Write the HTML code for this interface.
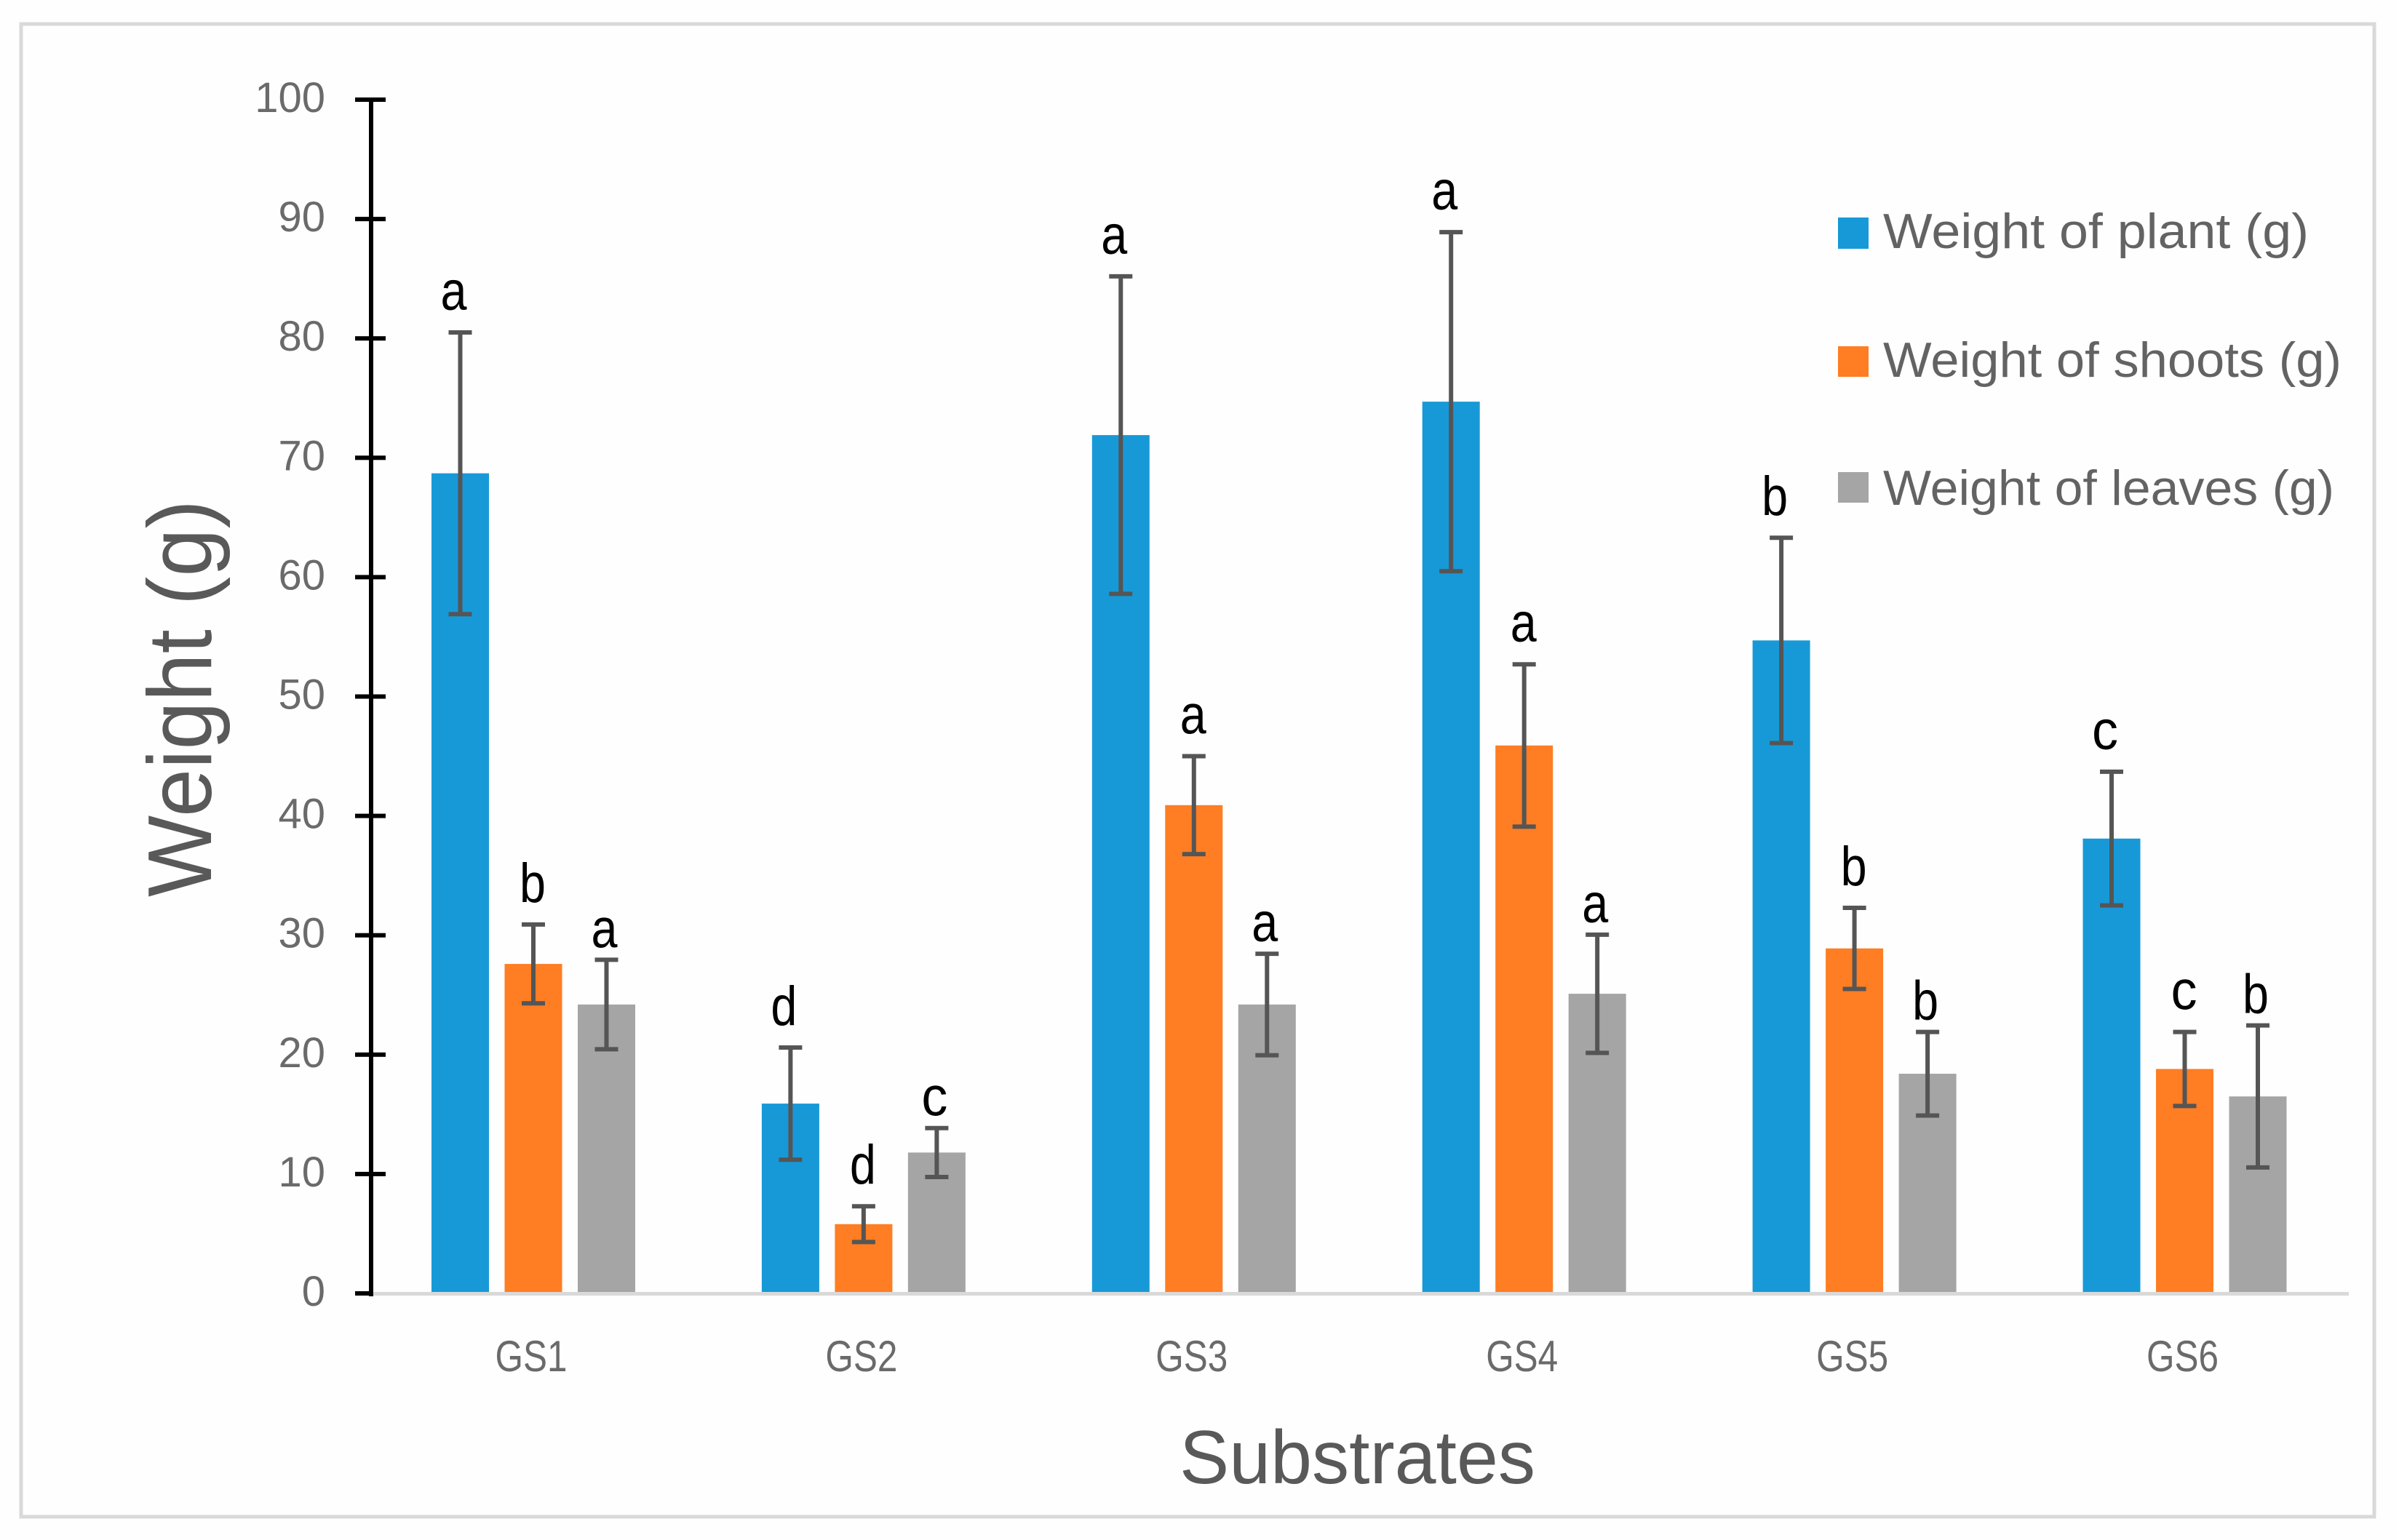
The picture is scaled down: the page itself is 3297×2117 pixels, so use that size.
<!DOCTYPE html>
<html>
<head>
<meta charset="utf-8">
<title>Weight by substrate</title>
<style>
html,body{margin:0;padding:0;background:#fff;}
svg{display:block;font-family:"Liberation Sans",sans-serif;}
</style>
</head>
<body>
<svg id="chart" xmlns="http://www.w3.org/2000/svg" width="3297" height="2117" viewBox="0 0 3297 2117">
  <rect x="0" y="0" width="3297" height="2117" fill="#fefefe"/>
  <rect x="29" y="33" width="3234" height="2052" fill="none" stroke="#d9d9d9" stroke-width="5"/>
  <rect x="511" y="1776" width="2717" height="5" fill="#d9d9d9"/>
  <g id="plot"></g>
  <text transform="translate(290 1233) rotate(-90)" font-size="124" fill="#595959" textLength="546" lengthAdjust="spacingAndGlyphs">Weight (g)</text>
  <text x="1621" y="2039" font-size="104" fill="#595959" textLength="489" lengthAdjust="spacingAndGlyphs">Substrates</text>
  <g>
    <g>
      <rect x="2526" y="299" width="42" height="43" fill="#1799d8"/>
      <text x="2588" y="341" font-size="68" fill="#636363" textLength="585" lengthAdjust="spacingAndGlyphs">Weight of plant (g)</text>
    </g>
    <g>
      <rect x="2526" y="476" width="42" height="42" fill="#ff7d23"/>
      <text x="2588" y="518" font-size="68" fill="#636363" textLength="630" lengthAdjust="spacingAndGlyphs">Weight of shoots (g)</text>
    </g>
    <g>
      <rect x="2526" y="649" width="42" height="42" fill="#a5a5a5"/>
      <text x="2588" y="694" font-size="68" fill="#636363" textLength="620" lengthAdjust="spacingAndGlyphs">Weight of leaves (g)</text>
    </g>
  </g>
  <g>
    <rect x="507" y="134" width="6" height="1648" fill="#000"/>
  </g>
</svg>
<script>
const categories = ["GS1", "GS2", "GS3", "GS4", "GS5", "GS6"];
const yTicks = [0, 10, 20, 30, 40, 50, 60, 70, 80, 90, 100];
const plantValues = [68.7, 15.9, 71.9, 74.7, 54.7, 38.1];
const shootValues = [27.6, 5.8, 40.9, 45.9, 28.9, 18.8];
const leafValues = [24.2, 11.8, 24.2, 25.1, 18.4, 16.5];
const plantErrors = [11.8, 4.7, 13.3, 14.2, 8.6, 5.6];
const shootErrors = [3.3, 1.5, 4.1, 6.8, 3.4, 3.1];
const leafErrors = [3.75, 2.05, 4.25, 4.95, 3.5, 5.95];
const plantLetters = ["a", "d", "a", "a", "b", "c"];
const shootLetters = ["b", "d", "a", "a", "b", "c"];
const leafLetters = ["a", "c", "a", "a", "b", "b"];

const svgNS = "http://www.w3.org/2000/svg";
const plot = document.getElementById("plot");

function yScale(v) { return 1778 - v * 16.41; }
function groupCenter(i) { return 733 + i * 453.9; }

function make(tag, attrs, parent) {
  const el = document.createElementNS(svgNS, tag);
  for (const k in attrs) el.setAttribute(k, attrs[k]);
  parent.appendChild(el);
  return el;
}

const seriesList = [
  { key: "plant", values: plantValues, errors: plantErrors, letters: plantLetters, color: "#1799d8", offset: -100.5, gap: 31, nudge: -9 },
  { key: "shoots", values: shootValues, errors: shootErrors, letters: shootLetters, color: "#ff7d23", offset: 0, gap: 31, nudge: -1 },
  { key: "leaves", values: leafValues, errors: leafErrors, letters: leafLetters, color: "#a5a5a5", offset: 100.5, gap: 17, nudge: -3 }
];

yTicks.forEach(function (t) {
  const y = yScale(t);
  const right = t === 0 ? 511 : 530;
  const tick = make("rect", { x: 488, y: y - 3, width: right - 488, height: 6, fill: "#000" }, plot);
  
  
  const label = make("text", { x: 447, y: y + 17, "font-size": 58, fill: "#6a6a6a", "text-anchor": "end" }, plot);
  
  
  label.textContent = t;
});

categories.forEach(function (name, i) {
  const label = make("text", { x: groupCenter(i) - 3, y: 1885, "font-size": 60, fill: "#6a6a6a", "text-anchor": "middle", textLength: 99, lengthAdjust: "spacingAndGlyphs" }, plot);
  
  
  label.textContent = name;
});

seriesList.forEach(function (s) {
  s.values.forEach(function (v, i) {
    const cx = groupCenter(i) + s.offset;
    const top = yScale(v);
    const base = yScale(0) - 2;
    const bar = make("rect", { x: cx - 39.5, y: top, width: 79, height: base - top, fill: s.color }, plot);
    
    
  });
});

seriesList.forEach(function (s) {
  s.values.forEach(function (v, i) {
    const cx = groupCenter(i) + s.offset;
    const hi = yScale(v + s.errors[i]);
    const lo = yScale(v - s.errors[i]);
    const path = "M" + cx + " " + hi + "V" + lo + "M" + (cx - 16) + " " + hi + "H" + (cx + 16) + "M" + (cx - 16) + " " + lo + "H" + (cx + 16);
    const err = make("path", { d: path, fill: "none", stroke: "#555", "stroke-width": 6 }, plot);
    
    
    const letter = make("text", { x: cx + s.nudge, y: hi - s.gap, "font-size": 76, fill: "#000", "text-anchor": "middle", textLength: 36, lengthAdjust: "spacingAndGlyphs" }, plot);
    
    
    letter.textContent = s.letters[i];
  });
});
</script>
</body>
</html>
